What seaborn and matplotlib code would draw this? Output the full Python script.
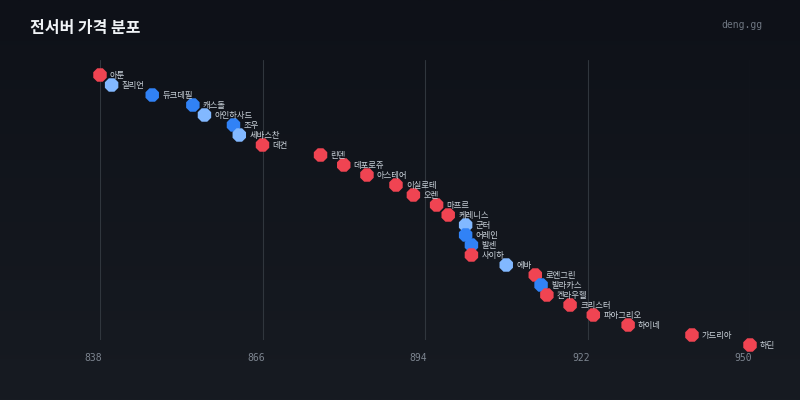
import numpy as np
import pandas as pd
import matplotlib
matplotlib.use("Agg")
import matplotlib.pyplot as plt
import matplotlib.transforms as mtransforms
from matplotlib.colors import LinearSegmentedColormap
import seaborn as sns

servers = ["아툰", "질리언", "듀크데필", "캐스돌", "아인하사드", "조우", "세바스찬", "데컨",
           "린덴", "데포로쥬", "아스테어", "이실로테", "오렌", "마프르", "케레니스", "군터",
           "어레인", "발센", "사이하", "에바", "로엔그린", "발라카스", "켄라우헬", "크리스터",
           "파아그리오", "하이네", "가드리아", "하딘"]
prices = [838, 840, 847, 854, 856, 861, 862, 866,
          876, 880, 884, 889, 892, 896, 898, 901,
          901, 902, 902, 908, 913, 914, 915, 919,
          923, 929, 940, 950]
groups = ["red", "light", "blue", "blue", "light", "blue", "light", "red",
          "red", "red", "red", "red", "red", "red", "red", "light",
          "blue", "blue", "red", "light", "red", "blue", "red", "red",
          "red", "red", "red", "red"]
x_ticks = [838, 866, 894, 922, 950]

palette = {"red": "#f04452", "blue": "#3182f6", "light": "#82b8ff"}

df = pd.DataFrame({"server": servers, "price": prices, "group": groups,
                   "rank": np.arange(len(servers))})

sns.set_theme(style="dark")
plt.rcParams["font.family"] = ["Noto Sans CJK KR", "DejaVu Sans"]

fig = plt.figure(figsize=(8, 4), dpi=100)

# background gradient
bg = fig.add_axes([0, 0, 1, 1], zorder=-10)
cmap = LinearSegmentedColormap.from_list("bg", ["#0e1118", "#171b22"])
grad = np.linspace(0, 1, 256).reshape(-1, 1)
bg.imshow(grad, aspect="auto", cmap=cmap, extent=[0, 1, 0, 1], origin="upper")
bg.axis("off")

ax = fig.add_axes([0.125, 0.15, 0.8125, 0.70])
ax.set_facecolor("none")
ax.patch.set_alpha(0)

sns.scatterplot(data=df, x="price", y="rank", hue="group", palette=palette,
                marker="8", s=110, linewidth=0, legend=False, ax=ax,
                clip_on=False, zorder=3)

for _, r in df.iterrows():
    ax.annotate(r["server"], (r["price"], r["rank"]), xytext=(7.2, -0.3),
                textcoords="offset points", va="center", ha="left",
                fontsize=6, color="#c9d1d9", zorder=4, annotation_clip=False)

ax.set_xlim(838, 950)
ax.set_ylim(26.5, -1.5)
ax.set_xticks(x_ticks)
ax.set_xticklabels([str(t) for t in x_ticks], family="DejaVu Sans Mono",
                   fontsize=7, color="#7d8590")
ax.set_yticks([])
ax.set_xlabel("")
ax.set_ylabel("")
ax.tick_params(axis="x", length=0, pad=9.5)
offset = mtransforms.ScaledTranslation(-6.5 / 100, 0, fig.dpi_scale_trans)
for lbl in ax.get_xticklabels():
    lbl.set_transform(lbl.get_transform() + offset)

ax.grid(axis="x", color="#30363d", linewidth=0.8)
ax.grid(axis="y", visible=False)
for sp in ax.spines.values():
    sp.set_visible(False)

fig.text(30 / 800, 1 - 28 / 400, "전서버 가격 분포", fontsize=11.5, fontweight="bold",
         color="#f0f3f6", ha="left", va="center")
fig.text(762 / 800, 1 - 25 / 400, "deng.gg", fontsize=7, family="DejaVu Sans Mono",
         color="#6e7681", ha="right", va="center")

fig.savefig("out.png", dpi=100, facecolor="#0e1118")
